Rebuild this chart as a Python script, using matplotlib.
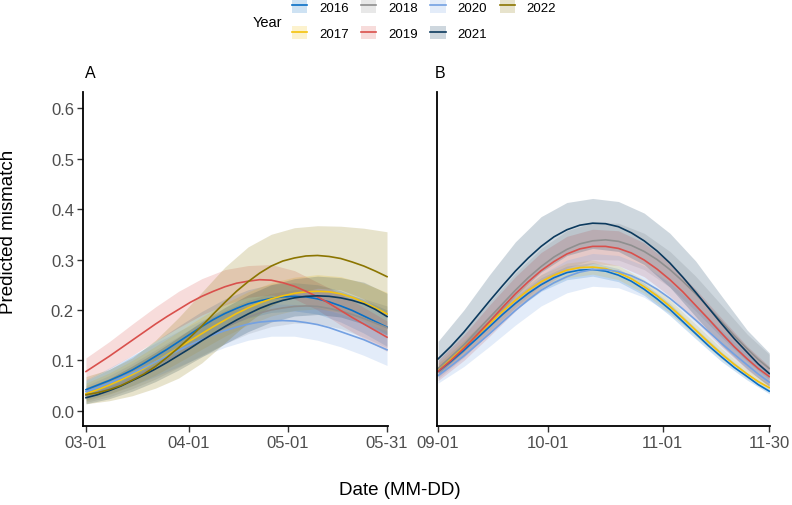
import matplotlib
matplotlib.use('Agg')
import matplotlib.pyplot as plt
from matplotlib.patches import Patch
from matplotlib.lines import Line2D

plt.rcParams['font.family'] = ['Liberation Sans', 'DejaVu Sans']

years = ['2016', '2017', '2018', '2019', '2020', '2021', '2022']
colors = ['#0a6fc6', '#f4c20d', '#8f8f8f', '#d9504c', '#74a1e2', '#0c3a5e', '#8b7500']

# ---- Panel A: spring (days since 03-01) ----
ticks_A = [0, 31, 61, 91]
ticklabels_A = ['03-01', '04-01', '05-01', '05-31']

# fitted lines (every 3.5 days)
days_A_line = [0, 3.5, 7, 10.5, 14, 17.5, 21, 24.5, 28, 31.5, 35, 38.5, 42, 45.5, 49, 52.5,
               56, 59.5, 63, 66.5, 70, 73.5, 77, 80.5, 84, 87.5, 91]
A_2016_fit = [0.042, 0.051, 0.060, 0.070, 0.081, 0.094, 0.108, 0.122, 0.137, 0.152, 0.167, 0.181, 0.193, 0.203,
              0.212, 0.218, 0.223, 0.226, 0.227, 0.226, 0.222, 0.216, 0.208, 0.199, 0.188, 0.177, 0.166]
A_2017_fit = [0.034, 0.042, 0.051, 0.061, 0.072, 0.084, 0.097, 0.111, 0.125, 0.139, 0.153, 0.167, 0.180, 0.193,
              0.204, 0.214, 0.222, 0.228, 0.233, 0.236, 0.237, 0.236, 0.232, 0.225, 0.215, 0.204, 0.192]
A_2018_fit = [0.030, 0.037, 0.045, 0.054, 0.065, 0.077, 0.089, 0.101, 0.114, 0.128, 0.141, 0.153, 0.165, 0.176,
              0.186, 0.194, 0.200, 0.204, 0.207, 0.208, 0.207, 0.203, 0.198, 0.191, 0.183, 0.174, 0.165]
A_2019_fit = [0.078, 0.093, 0.108, 0.124, 0.140, 0.156, 0.172, 0.187, 0.201, 0.215, 0.227, 0.237, 0.246, 0.253,
              0.257, 0.260, 0.259, 0.254, 0.247, 0.237, 0.226, 0.213, 0.199, 0.185, 0.172, 0.159, 0.146]
A_2020_fit = [0.038, 0.046, 0.055, 0.065, 0.075, 0.086, 0.097, 0.109, 0.120, 0.131, 0.141, 0.151, 0.159, 0.166,
              0.172, 0.176, 0.178, 0.179, 0.178, 0.175, 0.171, 0.165, 0.157, 0.149, 0.141, 0.131, 0.121]
A_2021_fit = [0.026, 0.032, 0.040, 0.049, 0.060, 0.071, 0.083, 0.096, 0.110, 0.124, 0.139, 0.153, 0.167, 0.180,
              0.192, 0.203, 0.212, 0.219, 0.224, 0.227, 0.228, 0.227, 0.224, 0.219, 0.212, 0.201, 0.187]
A_2022_fit = [0.032, 0.036, 0.042, 0.050, 0.061, 0.073, 0.088, 0.106, 0.125, 0.146, 0.168, 0.192, 0.215, 0.237,
              0.256, 0.273, 0.287, 0.297, 0.303, 0.307, 0.308, 0.306, 0.302, 0.295, 0.287, 0.277, 0.266]

# confidence bands (every 7 days)
days_A_band = [0, 7, 14, 21, 28, 35, 42, 49, 56, 63, 70, 77, 84, 91]
A_2016_lo = [0.028, 0.043, 0.063, 0.088, 0.115, 0.142, 0.166, 0.184, 0.195, 0.198, 0.192, 0.176, 0.154, 0.128]
A_2016_hi = [0.060, 0.082, 0.108, 0.138, 0.168, 0.197, 0.222, 0.240, 0.251, 0.254, 0.250, 0.238, 0.220, 0.200]
A_2017_lo = [0.020, 0.033, 0.050, 0.071, 0.096, 0.122, 0.148, 0.170, 0.188, 0.199, 0.202, 0.196, 0.178, 0.152]
A_2017_hi = [0.055, 0.075, 0.100, 0.128, 0.157, 0.186, 0.213, 0.236, 0.254, 0.265, 0.270, 0.266, 0.253, 0.235]
A_2018_lo = [0.017, 0.028, 0.044, 0.063, 0.086, 0.110, 0.133, 0.153, 0.167, 0.174, 0.173, 0.163, 0.146, 0.125]
A_2018_hi = [0.050, 0.070, 0.094, 0.121, 0.148, 0.175, 0.199, 0.219, 0.233, 0.240, 0.241, 0.234, 0.222, 0.208]
A_2019_lo = [0.060, 0.083, 0.110, 0.138, 0.165, 0.190, 0.210, 0.225, 0.230, 0.222, 0.200, 0.170, 0.143, 0.118]
A_2019_hi = [0.105, 0.137, 0.172, 0.206, 0.237, 0.262, 0.280, 0.288, 0.290, 0.278, 0.255, 0.232, 0.205, 0.178]
A_2020_lo = [0.022, 0.034, 0.050, 0.068, 0.088, 0.108, 0.126, 0.140, 0.148, 0.148, 0.140, 0.127, 0.110, 0.090]
A_2020_hi = [0.062, 0.085, 0.110, 0.134, 0.158, 0.180, 0.197, 0.207, 0.212, 0.211, 0.205, 0.192, 0.175, 0.158]
A_2021_lo = [0.014, 0.024, 0.039, 0.058, 0.081, 0.107, 0.133, 0.157, 0.176, 0.188, 0.191, 0.186, 0.172, 0.150]
A_2021_hi = [0.046, 0.064, 0.089, 0.116, 0.146, 0.177, 0.205, 0.230, 0.250, 0.262, 0.267, 0.264, 0.255, 0.233]
A_2022_lo = [0.014, 0.020, 0.030, 0.045, 0.065, 0.095, 0.135, 0.175, 0.208, 0.232, 0.243, 0.240, 0.222, 0.190]
A_2022_hi = [0.068, 0.082, 0.105, 0.140, 0.185, 0.235, 0.285, 0.325, 0.350, 0.363, 0.367, 0.366, 0.362, 0.355]

# ---- Panel B: autumn (days since 09-01) ----
ticks_B = [0, 30, 61, 90]
ticklabels_B = ['09-01', '10-01', '11-01', '11-30']

days_B_line = [0, 3.5, 7, 10.5, 14, 17.5, 21, 24.5, 28, 31.5, 35, 38.5, 42, 45.5, 49, 52.5,
               56, 59.5, 63, 66.5, 70, 73.5, 77, 80.5, 84, 87, 90]
B_2016_fit = [0.078, 0.098, 0.120, 0.143, 0.167, 0.191, 0.213, 0.233, 0.250, 0.264, 0.274, 0.279, 0.280, 0.277,
              0.269, 0.257, 0.241, 0.222, 0.201, 0.177, 0.153, 0.129, 0.107, 0.086, 0.068, 0.052, 0.039]
B_2017_fit = [0.083, 0.104, 0.126, 0.149, 0.173, 0.197, 0.219, 0.239, 0.256, 0.269, 0.279, 0.284, 0.285, 0.282,
              0.274, 0.262, 0.246, 0.228, 0.207, 0.184, 0.160, 0.136, 0.113, 0.092, 0.073, 0.058, 0.046]
B_2018_fit = [0.084, 0.107, 0.131, 0.158, 0.185, 0.212, 0.239, 0.264, 0.286, 0.305, 0.320, 0.331, 0.337, 0.339,
              0.336, 0.328, 0.316, 0.300, 0.280, 0.257, 0.232, 0.205, 0.177, 0.149, 0.123, 0.102, 0.084]
B_2019_fit = [0.078, 0.100, 0.124, 0.150, 0.177, 0.205, 0.232, 0.256, 0.278, 0.296, 0.311, 0.321, 0.326, 0.326,
              0.322, 0.313, 0.299, 0.281, 0.260, 0.236, 0.209, 0.182, 0.154, 0.127, 0.103, 0.084, 0.068]
B_2020_fit = [0.070, 0.089, 0.109, 0.131, 0.153, 0.176, 0.199, 0.220, 0.239, 0.254, 0.266, 0.275, 0.280, 0.280,
              0.276, 0.268, 0.256, 0.241, 0.223, 0.202, 0.180, 0.157, 0.134, 0.112, 0.091, 0.073, 0.057]
B_2021_fit = [0.103, 0.128, 0.156, 0.187, 0.218, 0.248, 0.277, 0.303, 0.326, 0.345, 0.359, 0.368, 0.372, 0.371,
              0.365, 0.353, 0.337, 0.317, 0.293, 0.265, 0.235, 0.204, 0.173, 0.143, 0.116, 0.093, 0.074]

days_B_band = [0, 7, 14, 21, 28, 35, 42, 49, 56, 63, 70, 77, 84, 90]
B_2016_lo = [0.068, 0.108, 0.154, 0.200, 0.237, 0.260, 0.267, 0.256, 0.229, 0.189, 0.143, 0.098, 0.061, 0.034]
B_2016_hi = [0.089, 0.133, 0.181, 0.227, 0.264, 0.287, 0.294, 0.282, 0.253, 0.213, 0.164, 0.117, 0.075, 0.046]
B_2017_lo = [0.073, 0.113, 0.159, 0.205, 0.241, 0.264, 0.271, 0.260, 0.233, 0.194, 0.148, 0.103, 0.065, 0.040]
B_2017_hi = [0.094, 0.140, 0.188, 0.234, 0.270, 0.293, 0.299, 0.288, 0.260, 0.220, 0.172, 0.124, 0.081, 0.053]
B_2018_lo = [0.064, 0.106, 0.155, 0.205, 0.250, 0.283, 0.300, 0.299, 0.280, 0.245, 0.198, 0.146, 0.098, 0.062]
B_2018_hi = [0.108, 0.158, 0.216, 0.273, 0.322, 0.357, 0.373, 0.372, 0.352, 0.316, 0.267, 0.210, 0.152, 0.112]
B_2019_lo = [0.060, 0.100, 0.148, 0.198, 0.243, 0.276, 0.292, 0.288, 0.266, 0.227, 0.178, 0.127, 0.081, 0.050]
B_2019_hi = [0.100, 0.150, 0.210, 0.266, 0.314, 0.346, 0.360, 0.357, 0.333, 0.293, 0.241, 0.184, 0.128, 0.088]
B_2020_lo = [0.055, 0.088, 0.128, 0.170, 0.208, 0.234, 0.247, 0.244, 0.225, 0.193, 0.152, 0.110, 0.073, 0.045]
B_2020_hi = [0.088, 0.132, 0.181, 0.230, 0.270, 0.299, 0.312, 0.308, 0.288, 0.254, 0.209, 0.160, 0.113, 0.078]
B_2021_lo = [0.073, 0.118, 0.172, 0.228, 0.275, 0.308, 0.322, 0.316, 0.290, 0.245, 0.187, 0.130, 0.083, 0.048]
B_2021_hi = [0.138, 0.200, 0.270, 0.335, 0.385, 0.413, 0.421, 0.415, 0.392, 0.352, 0.297, 0.228, 0.160, 0.115]

panel_A = {
    '2016': (A_2016_fit, A_2016_lo, A_2016_hi),
    '2017': (A_2017_fit, A_2017_lo, A_2017_hi),
    '2018': (A_2018_fit, A_2018_lo, A_2018_hi),
    '2019': (A_2019_fit, A_2019_lo, A_2019_hi),
    '2020': (A_2020_fit, A_2020_lo, A_2020_hi),
    '2021': (A_2021_fit, A_2021_lo, A_2021_hi),
    '2022': (A_2022_fit, A_2022_lo, A_2022_hi),
}
panel_B = {
    '2016': (B_2016_fit, B_2016_lo, B_2016_hi),
    '2017': (B_2017_fit, B_2017_lo, B_2017_hi),
    '2018': (B_2018_fit, B_2018_lo, B_2018_hi),
    '2019': (B_2019_fit, B_2019_lo, B_2019_hi),
    '2020': (B_2020_fit, B_2020_lo, B_2020_hi),
    '2021': (B_2021_fit, B_2021_lo, B_2021_hi),
}

W, H = 792, 506
fig = plt.figure(figsize=(W / 100, H / 100), dpi=100)

def px_axes(x0, x1, ytop, ybot):
    return fig.add_axes([x0 / W, 1 - ybot / H, (x1 - x0) / W, (ybot - ytop) / H])

axA = px_axes(83, 388, 93, 427)
axB = px_axes(437, 770, 93, 427)

RIB_ALPHA = 0.2
LW = 1.2

def draw(ax, days_line, days_band, data):
    for yr, col in zip(years, colors):
        if yr in data:
            fit, lo, hi = data[yr]
            ax.fill_between(days_band, lo, hi, color=col, alpha=RIB_ALPHA, linewidth=0)
    for yr, col in zip(years, colors):
        if yr in data:
            fit, lo, hi = data[yr]
            ax.plot(days_line, fit, color=col, linewidth=LW, solid_joinstyle='round')

draw(axA, days_A_line, days_A_band, panel_A)
draw(axB, days_B_line, days_B_band, panel_B)

ylim = (-0.03, 0.632)
for ax in (axA, axB):
    ax.set_ylim(*ylim)
    ax.set_facecolor('white')
    for s in ('top', 'right'):
        ax.spines[s].set_visible(False)
    for s in ('left', 'bottom'):
        ax.spines[s].set_linewidth(1.3)
        ax.spines[s].set_color('black')
    ax.tick_params(axis='both', direction='out', length=4, width=1.0,
                   color='#333333', labelsize=12, labelcolor='#4d4d4d', pad=2.5)

axA.set_xlim(-0.9, 91.3)
axB.set_xlim(-0.3, 90.2)
axA.set_xticks(ticks_A)
axA.set_xticklabels(ticklabels_A)
axB.set_xticks(ticks_B)
axB.set_xticklabels(ticklabels_B)
yt = [0.0, 0.1, 0.2, 0.3, 0.4, 0.5, 0.6]
axA.set_yticks(yt)
axA.set_yticklabels([f'{v:.1f}' for v in yt])
axB.set_yticks(yt)
axB.tick_params(axis='y', left=False, labelleft=False)

fig.text(85 / W, 1 - 78 / H, 'A', fontsize=11.5, ha='left', va='baseline')
fig.text(435 / W, 1 - 78 / H, 'B', fontsize=11.5, ha='left', va='baseline')

fig.text(9 / W, 1 - 232 / H, 'Predicted mismatch', rotation=90, fontsize=13.5,
         ha='center', va='center')
fig.text(400 / W, 1 - 491 / H, 'Date (MM-DD)', fontsize=13.5, ha='center', va='center')

# legend
handles = []
for yr, col in zip(years, colors):
    handles.append((Patch(facecolor=col, alpha=RIB_ALPHA, edgecolor='none'),
                    Line2D([], [], color=col, linewidth=LW)))
fig.legend(handles, years, loc='upper left', bbox_to_anchor=(292 / W, 1 - 1 / H),
           ncol=4, frameon=False, fontsize=9.5, handlelength=1.15, handleheight=1.1,
           handletextpad=0.9, columnspacing=0.95, labelspacing=0.95,
           borderpad=0, borderaxespad=0)
fig.text(253 / W, 1 - 23 / H, 'Year', fontsize=10.5, ha='left', va='center')

fig.savefig('out.png', dpi=100, facecolor='white')
